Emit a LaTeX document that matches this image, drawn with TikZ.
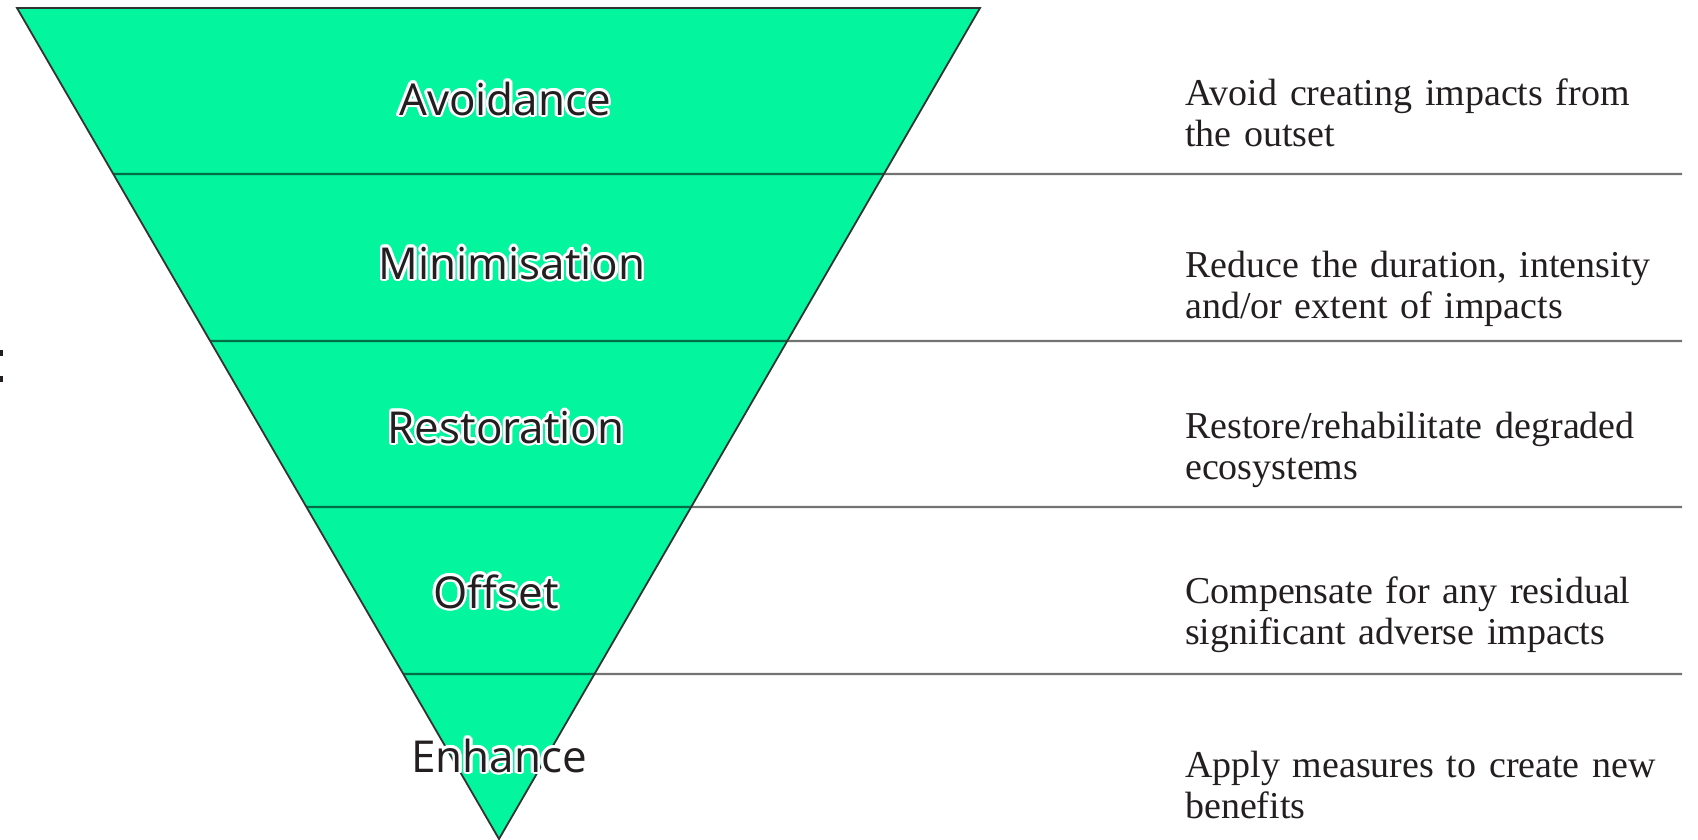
\documentclass[tikz,border=0pt]{standalone}
\usepackage{fontspec}
\setmainfont{Liberation Serif}
\newfontfamily\labelfont{Open Sans}
\usepackage[copies]{contour}
\contourlength{2.6pt}
\usetikzlibrary{calc}
\definecolor{mint}{RGB}{3,245,158}
\definecolor{ink}{RGB}{35,31,32}
\tikzset{
  band/.style={draw=black, draw opacity=0.55, line width=2.4pt},
  stagelabel/.style={anchor=base, inner sep=0pt, text=ink, font=\labelfont\fontsize{44}{48}\selectfont},
  desc/.style={anchor=base west, inner sep=0pt, text=ink, text width=520pt, align=left, font=\fontsize{38}{41}\selectfont}
}
\begin{document}
\begin{tikzpicture}[x=1pt,y=-1pt]
\useasboundingbox (0,0) rectangle (1698,839);
\coordinate (tl) at (17,8);
\coordinate (tr) at (980,8);
\coordinate (ap) at (499,839);
\fill[mint] (tl) -- (tr) -- (ap) -- cycle;
% band separators
\foreach \yy/\nm in {174/a,341/b,507/c,674/d}{
  \coordinate (s\nm) at ($(tl)!{(\yy-8)/831}!(ap)$);
  \coordinate (e\nm) at (1682,\yy);
  \draw[band] (s\nm) -- (e\nm);
}
\draw[draw=black!80, line width=1.8pt, line join=miter] (tl) -- (tr) -- (ap) -- cycle;
% stage labels
\node[stagelabel] (avoid) at (505,115) {\contour{white}{Avoidance}};
\node[stagelabel] (mini) at (512,279) {\contour{white}{Minimisation}};
\node[stagelabel] (rest) at (506,443) {\contour{white}{Restoration}};
\node[stagelabel] (offs) at (496,608) {\contour{white}{Offset}};
\node[stagelabel] (enh) at (499,772) {\contour{white}{Enhance}};
% descriptions
\node[desc] (d1) at (1185,105) {Avoid creating impacts from\\the outset};
\node[desc] (d2) at (1185,277) {Reduce the duration, intensity\\and/or extent of impacts};
\node[desc] (d3) at (1185,438) {Restore/rehabilitate degraded\\ecosystems};
\node[desc] (d4) at (1185,603) {Compensate for any residual\\significant adverse impacts};
\node[desc] (d5) at (1185,777) {Apply measures to create new\\benefits};
% clipped marks at left edge
\fill[ink] (0,350) rectangle (2.5,356);
\fill[ink] (0,376) rectangle (2.5,382);
\end{tikzpicture}
\end{document}
